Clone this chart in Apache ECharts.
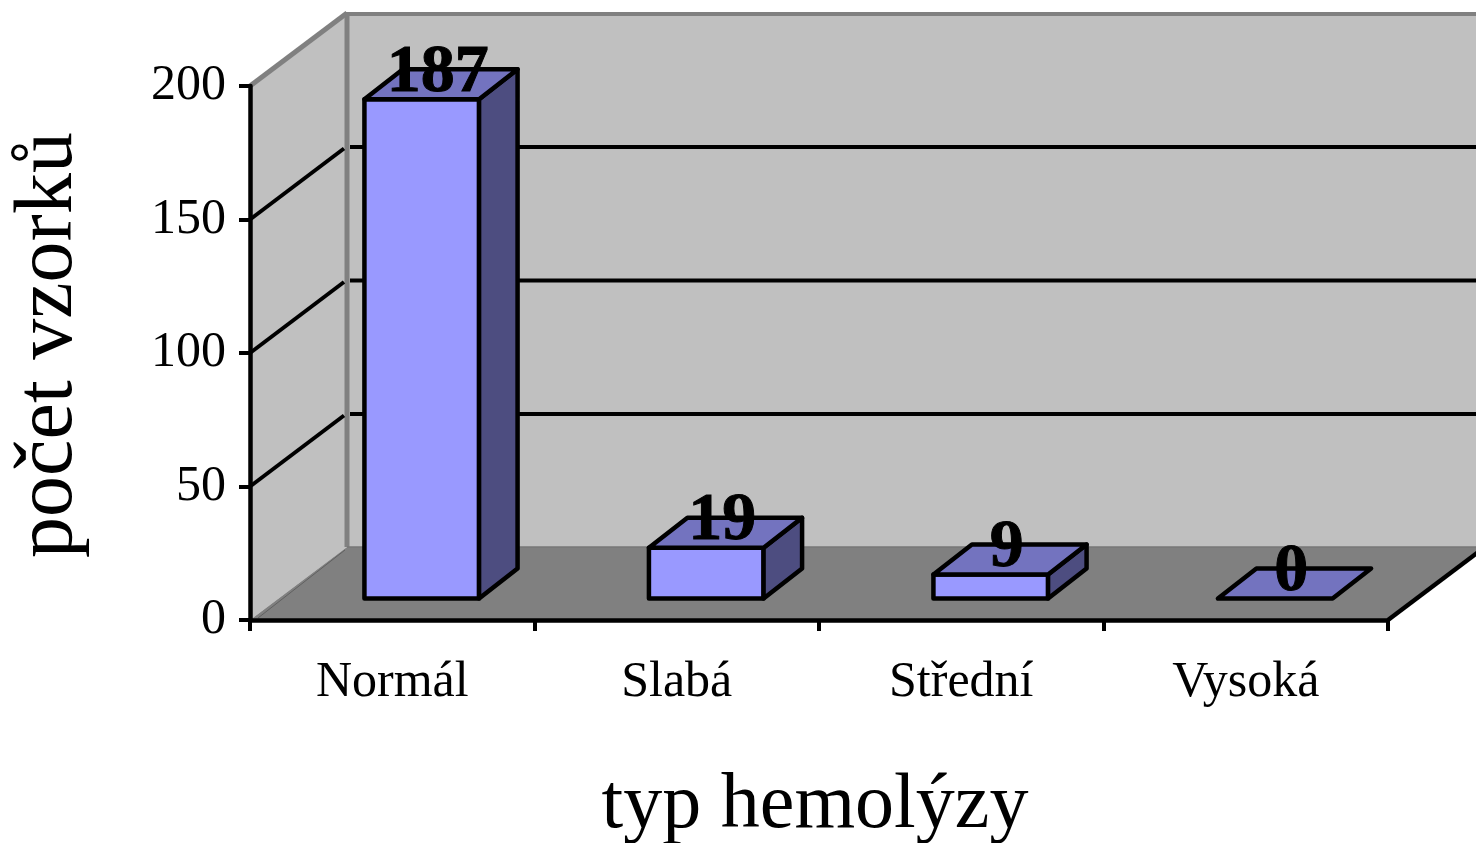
<!DOCTYPE html>
<html>
<head>
<meta charset="utf-8">
<style>html,body{margin:0;padding:0;background:#fff}#c{width:1476px;height:843px}</style>
<script src="https://cdn.jsdelivr.net/npm/echarts@6/dist/echarts.min.js"></script>
</head>
<body>
<div id="c"></div>
<script>
var categories = ['Normál', 'Slabá', 'Střední', 'Vysoká'];
var counts = [187, 19, 9, 0];
var yTicks = [0, 50, 100, 150, 200];
var xTitle = 'typ hemolýzy';
var yTitle = 'počet vzorků';

var WALL_DX = 97, WALL_DY = -73;
var BAR_FRONT_DX = 29.5, BAR_FRONT_DY = -21.5;
var BAR_DEPTH_DX = 38.5, BAR_DEPTH_DY = -30;
var BAR_RATIO = 0.403;
var SERIF = '"Liberation Serif", serif';

function poly(points, fill, stroke, width) {
  return {
    type: 'polygon',
    shape: { points: points },
    style: { fill: fill, stroke: stroke || null, lineWidth: width || 0, lineJoin: 'round' }
  };
}
function line(a, b, color, width) {
  return {
    type: 'line',
    shape: { x1: a[0], y1: a[1], x2: b[0], y2: b[1] },
    style: { stroke: color, lineWidth: width, lineCap: 'butt' }
  };
}

function renderWalls(params, api) {
  var half = api.size([1, 0])[0] / 2;
  var first = 0, last = categories.length - 1;
  var top = yTicks[yTicks.length - 1];
  var x0 = api.coord([first, 0])[0] - half;
  var x1 = api.coord([last, 0])[0] + half;
  var y0 = api.coord([first, 0])[1];
  var yT = api.coord([first, top])[1];
  var children = [
    poly([[x0 + WALL_DX, yT + WALL_DY], [x1 + WALL_DX, yT + WALL_DY], [x1 + WALL_DX, y0 + WALL_DY], [x0 + WALL_DX, y0 + WALL_DY]], '#C0C0C0'),
    poly([[x0, y0], [x0 + WALL_DX, y0 + WALL_DY], [x0 + WALL_DX, yT + WALL_DY], [x0, yT]], '#C0C0C0'),
    poly([[x0, y0], [x1, y0], [x1 + WALL_DX, y0 + WALL_DY], [x0 + WALL_DX, y0 + WALL_DY]], '#808080'),
    line([x0 + WALL_DX, yT + WALL_DY], [x0 + WALL_DX, y0 + WALL_DY], '#808080', 5),
    line([x0 + WALL_DX - 2, yT + WALL_DY + 1], [x1 + WALL_DX, yT + WALL_DY + 1], '#808080', 4),
    line([x0, yT], [x0 + WALL_DX, yT + WALL_DY], '#808080', 5),
    line([x0 + WALL_DX, y0 + WALL_DY], [x1 + WALL_DX, y0 + WALL_DY], '#777777', 1.5),
    line([x0 + 8, y0 - 2], [x0 + WALL_DX - 2, y0 + WALL_DY + 3], '#606060', 1),
    line([x1, y0], [x1 + WALL_DX, y0 + WALL_DY], '#000000', 4.5)
  ];
  return { type: 'group', children: children };
}

function renderGrid(params, api) {
  var half = api.size([1, 0])[0] / 2;
  var p = api.coord([0, api.value(1)]);
  var x0 = p[0] - half, y = p[1];
  var x1 = api.coord([categories.length - 1, 0])[0] + half;
  return {
    type: 'group',
    children: [
      line([x0, y], [x0 + WALL_DX - 3, y + WALL_DY + 2], '#000000', 4),
      line([x0 + WALL_DX + 3, y + WALL_DY + 0.5], [x1 + WALL_DX, y + WALL_DY + 0.5], '#000000', 4)
    ]
  };
}

function renderBar(params, api) {
  var cat = api.value(0), val = api.value(1);
  var base = api.coord([cat, 0]);
  var head = api.coord([cat, val]);
  var w = api.size([1, 0])[0] * BAR_RATIO;
  var l = base[0] - w / 2 + BAR_FRONT_DX, r = base[0] + w / 2 + BAR_FRONT_DX;
  var b = base[1] + BAR_FRONT_DY, t = head[1] + BAR_FRONT_DY;
  var dx = BAR_DEPTH_DX, dy = BAR_DEPTH_DY;
  var children = [];
  if (val > 0) {
    children.push(poly([[l, b], [r, b], [r, t], [l, t]], '#9999FF', '#000000', 4.5));
    children.push(poly([[r, b], [r + dx, b + dy], [r + dx, t + dy], [r, t]], '#4D4D80', '#000000', 4.5));
  }
  children.push(poly([[l, t], [r, t], [r + dx, t + dy], [l + dx, t + dy]], '#7373BF', '#000000', 4.5));
  children.push({
    type: 'text',
    style: {
      text: String(val),
      x: (l + r) / 2 + 16,
      y: t - 60,
      fill: '#000000',
      stroke: '#000000',
      lineWidth: 1,
      font: 'bold 68px ' + SERIF,
      align: 'center',
      verticalAlign: 'top'
    }
  });
  return { type: 'group', children: children };
}

var chart = echarts.init(document.getElementById('c'), null, { renderer: 'canvas' });
chart.setOption({
  animation: false,
  backgroundColor: '#ffffff',
  tooltip: { show: false },
  grid: { left: 250, right: 88, top: 86, bottom: 223, containLabel: false, outerBoundsMode: 'none' },
  xAxis: {
    type: 'category',
    data: categories,
    z: 10,
    name: xTitle,
    nameLocation: 'middle',
    nameGap: 148,
    nameTextStyle: { fontFamily: SERIF, fontSize: 78, color: '#000', padding: [0, 8, 0, 0] },
    axisLine: { show: true, lineStyle: { color: '#000', width: 4.5 } },
    axisTick: { show: true, length: 11, alignWithLabel: false, lineStyle: { color: '#000', width: 4 } },
    axisLabel: { fontFamily: SERIF, fontSize: 50, color: '#000', margin: 38, interval: 0 },
    splitLine: { show: false }
  },
  yAxis: {
    type: 'value',
    min: 0,
    max: 200,
    interval: 50,
    z: 10,
    name: yTitle,
    nameLocation: 'middle',
    nameGap: 160,
    nameTextStyle: { fontFamily: SERIF, fontSize: 82, color: '#000', padding: [0, 0, 0, 16] },
    axisLine: { show: true, lineStyle: { color: '#000', width: 4.5 } },
    axisTick: { show: true, length: 11, lineStyle: { color: '#000', width: 4 } },
    axisLabel: { fontFamily: SERIF, fontSize: 50, color: '#000', margin: 24, padding: [8, 0, 0, 0] },
    splitLine: { show: false }
  },
  series: [
    { type: 'custom', z: 1, silent: true, renderItem: renderWalls, data: [[0, 0]], encode: { x: 0, y: 1 } },
    { type: 'custom', z: 2, silent: true, renderItem: renderGrid,
      data: yTicks.filter(function (v) { return v > 0 && v < yTicks[yTicks.length - 1]; }).map(function (v) { return [0, v]; }),
      encode: { x: 0, y: 1 } },
    { type: 'custom', z: 3, silent: true, renderItem: renderBar,
      data: counts.map(function (v, i) { return [i, v]; }), encode: { x: 0, y: 1 } }
  ]
});
</script>
</body>
</html>
